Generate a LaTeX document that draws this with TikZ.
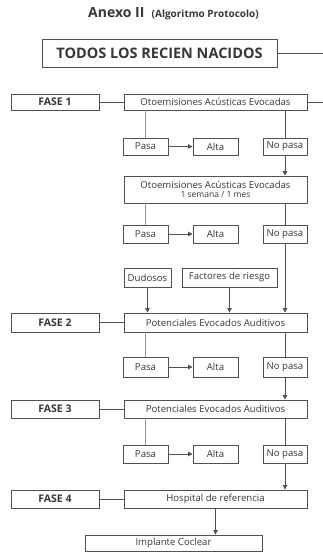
\documentclass[tikz,border=0pt]{standalone}
\usepackage{fontspec}
\setmainfont{Open Sans}
\usetikzlibrary{arrows.meta}
\definecolor{boxgray}{RGB}{80,80,80}
\definecolor{linegray}{RGB}{150,150,150}
\definecolor{txtgray}{RGB}{55,55,55}

\begin{document}
\begin{tikzpicture}[x=1pt,y=1pt,yscale=-1,xscale=1,
  box/.style={draw=boxgray, line width=0.9pt, inner sep=0pt, text=txtgray, font=\fontsize{9.6}{10.5}\selectfont, align=center},
  fase/.style={box, minimum width=88pt, font=\bfseries\fontsize{10.5}{11}\selectfont},
  wide/.style={box, minimum width=183pt},
  small/.style={box, minimum width=45pt},
  conn/.style={draw=boxgray, line width=0.9pt},
  thin/.style={draw=linegray, line width=0.9pt},
  arr/.style={conn, -{Triangle[length=4.5pt,width=4.5pt]}}]
        \useasboundingbox (0,0) rectangle (323,553);

        % Text Node
        \draw (173.5,14) node [inner sep=0.75pt, text=txtgray] (title) {\bfseries\fontsize{14}{16}\selectfont Anexo II\ \ {\fontsize{10}{12}\selectfont (Algoritmo Protocolo)}};

        %Shape: Rectangle
        \draw (159.5,53) node [box, minimum width=235pt, minimum height=28pt, font=\bfseries\fontsize{14.5}{16}\selectfont] (todos) {TODOS LOS RECIEN NACIDOS};
        \coordinate (redge1) at (323,53);

        % FASE 1
        \draw (55,102) node [fase, minimum height=16pt] (fase1) {FASE 1};
        \draw (215.5,102) node [wide, minimum height=16pt] (oto1) {Otoemisiones Acústicas Evocadas};
        \coordinate (redge2) at (323,102);
        \draw (145.5,146.5) node [small, minimum height=17pt] (pasa1) {Pasa};
        \draw (215.5,146.5) node [small, minimum height=17pt] (alta1) {Alta};
        \draw (285,146.5) node [small, minimum width=44pt, minimum height=17pt] (nopasa1) {No pasa};

        % segunda prueba
        \draw (215.5,189.5) node [wide, minimum height=27pt] (oto2) {Otoemisiones Acústicas Evocadas\\[-1.5pt]{\fontsize{8.5}{9}\selectfont 1 semana / 1 mes}};
        \draw (145.5,234) node [small, minimum height=18pt] (pasa2) {Pasa};
        \draw (215.5,234) node [small, minimum height=18pt] (alta2) {Alta};
        \draw (285,234) node [small, minimum width=44pt, minimum height=18pt] (nopasa2) {No pasa};

        \draw (147.5,277.5) node [box, minimum width=47pt, minimum height=19pt] (dudosos) {Dudosos};
        \draw (229.5,277.5) node [box, minimum width=95pt, minimum height=19pt] (factores) {Factores de riesgo};

        % FASE 2
        \draw (55,322.5) node [fase, minimum height=19pt] (fase2) {FASE 2};
        \draw (215.5,322.5) node [wide, minimum height=19pt] (pot2) {Potenciales Evocados Auditivos};
        \draw (145.5,367) node [small, minimum height=20pt] (pasa3) {Pasa};
        \draw (215.5,367) node [small, minimum height=20pt] (alta3) {Alta};
        \draw (285,367) node [small, minimum width=44pt, minimum height=20pt] (nopasa3) {No pasa};

        % FASE 3
        \draw (55,409) node [fase, minimum height=18pt] (fase3) {FASE 3};
        \draw (215.5,409) node [wide, minimum height=18pt] (pot3) {Potenciales Evocados Auditivos};
        \draw (145.5,454) node [small, minimum height=18pt] (pasa4) {Pasa};
        \draw (215.5,454) node [small, minimum height=18pt] (alta4) {Alta};
        \draw (285,454) node [small, minimum width=44pt, minimum height=18pt] (nopasa4) {No pasa};

        % FASE 4
        \draw (55,499) node [fase, minimum height=18pt] (fase4) {FASE 4};
        \draw (215.5,499) node [wide, minimum height=18pt] (hosp) {Hospital de referencia};
        \draw (173.5,543) node [box, minimum width=177pt, minimum height=16pt] (implante) {Implante Coclear};

        % connectors
        \draw [conn] (todos.east) -- (redge1);
        \draw [conn] (oto1.east) -- (redge2);
        \draw [conn] (fase1.east) -- (oto1.west);
        \draw [conn] (fase2.east) -- (pot2.west);
        \draw [conn] (fase3.east) -- (pot3.west);
        \draw [conn] (fase4.east) -- (hosp.west);

        \draw [thin] (pasa1.north |- oto1.south) -- (pasa1.north);
        \draw [thin] (pasa2.north |- oto2.south) -- (pasa2.north);
        \draw [thin] (pasa3.north |- pot2.south) -- (pasa3.north);
        \draw [thin] (pasa4.north |- pot3.south) -- (pasa4.north);
        \draw [conn] (nopasa1.north |- oto1.south) -- (nopasa1.north);
        \draw [conn] (nopasa2.north |- oto2.south) -- (nopasa2.north);
        \draw [conn] (nopasa3.north |- pot2.south) -- (nopasa3.north);
        \draw [conn] (nopasa4.north |- pot3.south) -- (nopasa4.north);

        \draw [arr] (pasa1.east) -- (alta1.west);
        \draw [arr] (pasa2.east) -- (alta2.west);
        \draw [arr] (pasa3.east) -- (alta3.west);
        \draw [arr] (pasa4.east) -- (alta4.west);

        \draw [arr] (nopasa1.south) -- (nopasa1.south |- oto2.north);
        \draw [arr] (nopasa2.south) -- (nopasa2.south |- pot2.north);
        \draw [arr] (dudosos.south) -- (dudosos.south |- pot2.north);
        \draw [arr] (factores.south) -- (factores.south |- pot2.north);
        \draw [arr] (nopasa3.south) -- (nopasa3.south |- pot3.north);
        \draw [arr] (nopasa4.south) -- (nopasa4.south |- hosp.north);
        \draw [arr] (hosp.south) -- (hosp.south |- implante.north);

\end{tikzpicture}
\end{document}
